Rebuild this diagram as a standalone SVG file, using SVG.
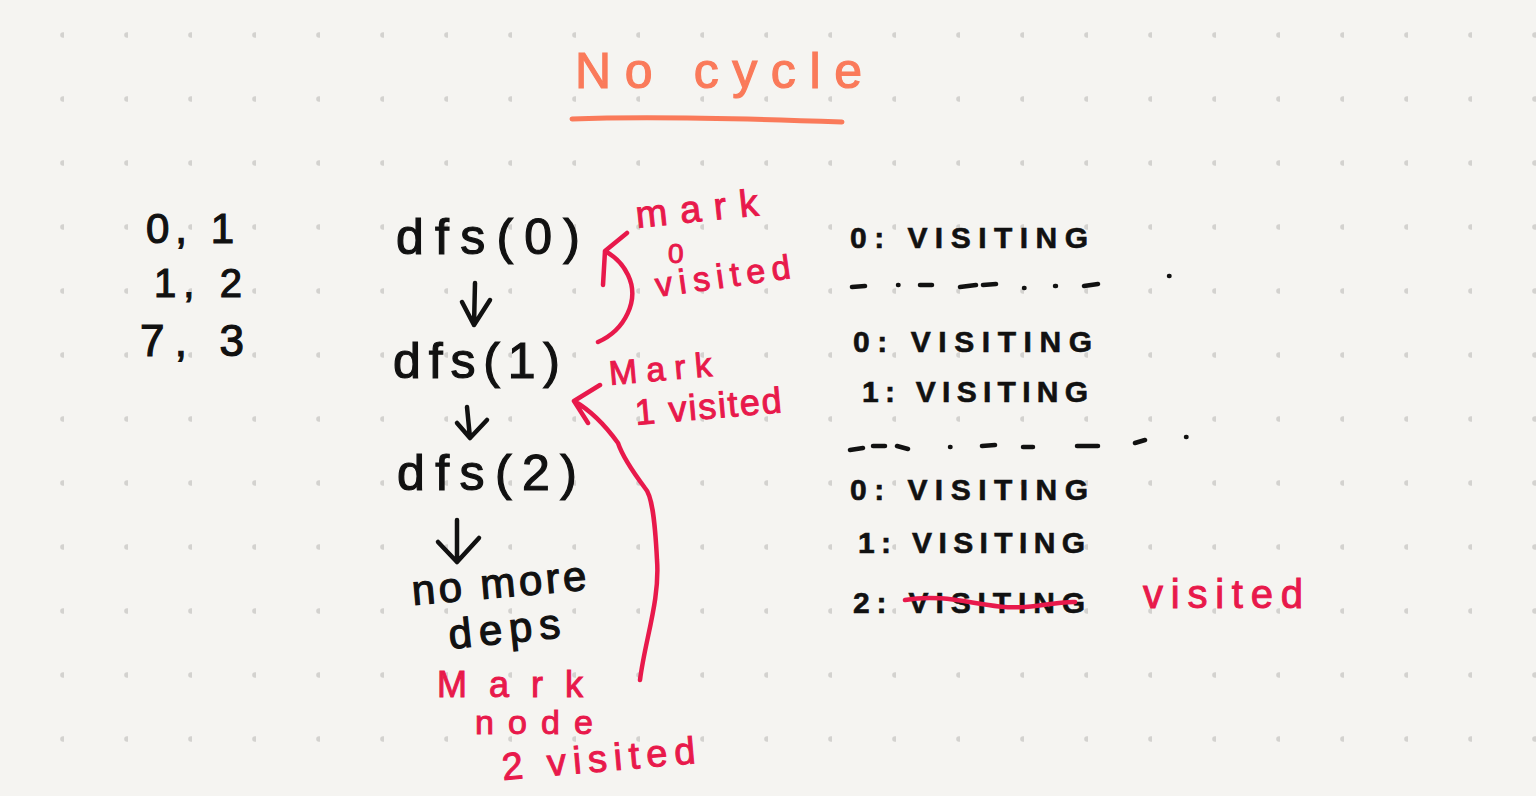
<svg xmlns="http://www.w3.org/2000/svg" width="1536" height="796" viewBox="0 0 1536 796">
<defs>
<pattern id="dots" x="0" y="0" width="64" height="64" patternUnits="userSpaceOnUse">
<circle cx="63" cy="35" r="2.8" fill="#d3d2cf"/>
</pattern>
<style>
.ink{font-family:"Liberation Sans","DejaVu Sans",sans-serif;fill:#111;stroke:#111;stroke-width:1.2;}
.red{font-family:"Liberation Sans","DejaVu Sans",sans-serif;fill:#e8194b;stroke:#e8194b;stroke-width:1;}
.title{font-family:"Liberation Sans","DejaVu Sans",sans-serif;fill:#fa7a5a;stroke:#fa7a5a;stroke-width:1.2;}
.caps{font-weight:bold;stroke-width:0.6;}
.pen{fill:none;stroke:#111;stroke-width:4.5;stroke-linecap:round;stroke-linejoin:round;}
.rpen{fill:none;stroke:#e8194b;stroke-width:4.5;stroke-linecap:round;stroke-linejoin:round;}
.opan{fill:none;stroke:#fa7a5a;stroke-width:5;stroke-linecap:round;}
</style>
</defs>
<rect width="1536" height="796" fill="#f5f4f1"/>
<rect width="1536" height="796" fill="url(#dots)"/>

<g id="title">
<text class="title" x="575" y="88" font-size="50" textLength="287" lengthAdjust="spacing">No cycle</text>
<path class="opan" d="M572,119 C650,116 760,119 842,122"/>
</g>

<g id="edges-list">
<text class="ink" x="146" y="243" font-size="42" textLength="88" lengthAdjust="spacing">0, 1</text>
<text class="ink" x="154" y="297" font-size="40" textLength="88" lengthAdjust="spacing">1, 2</text>
<text class="ink" x="140" y="356" font-size="44" textLength="104" lengthAdjust="spacing">7, 3</text>
</g>

<g id="dfs0"><text class="ink" x="396" y="254" font-size="50" textLength="184" lengthAdjust="spacing">dfs(0)</text></g>
<g id="dfs1"><text class="ink" x="393" y="378" font-size="50" textLength="167" lengthAdjust="spacing">dfs(1)</text></g>
<g id="dfs2"><text class="ink" x="397" y="490" font-size="50" textLength="180" lengthAdjust="spacing">dfs(2)</text></g>
<g id="no-more-deps">
<text class="ink" x="413" y="605" font-size="42" textLength="175" lengthAdjust="spacing" transform="rotate(-5 413 605)">no more</text>
<text class="ink" x="450" y="649" font-size="42" textLength="112" lengthAdjust="spacing" transform="rotate(-6 450 649)">deps</text>
</g>

<g id="note-mark0">
<text class="red" x="637" y="228" font-size="38" textLength="123" lengthAdjust="spacing" transform="rotate(-6 637 228)">mark</text>
<text class="red" x="668" y="263" font-size="28">0</text>
<text class="red" x="657" y="297" font-size="34" textLength="136" lengthAdjust="spacing" transform="rotate(-8 657 297)">visited</text>
</g>
<g id="note-mark1">
<text class="red" x="610" y="385" font-size="34" textLength="103" lengthAdjust="spacing" transform="rotate(-5 610 385)">Mark</text>
<text class="red" x="636" y="425" font-size="36" textLength="147" lengthAdjust="spacing" transform="rotate(-5 636 425)">1 visited</text>
</g>
<g id="note-mark2">
<text class="red" x="437" y="697" font-size="36" textLength="146" lengthAdjust="spacing">Mark</text>
<text class="red" x="475" y="734" font-size="34" textLength="118" lengthAdjust="spacing">node</text>
<text class="red" x="503" y="780" font-size="38" textLength="194" lengthAdjust="spacing" transform="rotate(-5 503 780)">2 visited</text>
</g>

<g id="state">
<text class="ink caps" x="850" y="248" font-size="30" textLength="238" lengthAdjust="spacing">0: VISITING</text>
<path class="pen" d="M852,287 L865,286 M898,285 L898.5,285 M920,285 L932,285 M960,287 L976,285 M983,285 L996,284 M1024,288 L1024.5,288 M1055,286 L1056,286 M1084,286 L1098,284 M1169,276 L1169.5,276"/>
<text class="ink caps" x="853" y="352" font-size="30" textLength="239" lengthAdjust="spacing">0: VISITING</text>
<text class="ink caps" x="862" y="402" font-size="30" textLength="226" lengthAdjust="spacing">1: VISITING</text>
<path class="pen" d="M850,450 L863,448 M873,446 L885,446 M897,446 L908,449 M950,447 L950.5,447 M982,446 L995,445 M1023,447 L1033,447 M1077,446 L1098,446 M1135,443 L1145,440 M1186,437 L1186.5,437"/>
<text class="ink caps" x="850" y="500" font-size="30" textLength="238" lengthAdjust="spacing">0: VISITING</text>
<text class="ink caps" x="858" y="553" font-size="30" textLength="227" lengthAdjust="spacing">1: VISITING</text>
<text class="ink caps" x="853" y="613" font-size="30" textLength="232" lengthAdjust="spacing">2: VISITING</text>
<path class="rpen" d="M905,600 C950,592 985,610 1025,607 C1050,605 1065,601 1075,602"/>
<text class="red" x="1143" y="608" font-size="40" textLength="160" lengthAdjust="spacing">visited</text>
</g>

<g id="connectors">
<path class="pen" d="M475,283 L474,325 M462,302 L474,325 L490,300"/>
<path class="pen" d="M467,407 L470,438 M457,423 L470,438 L487,420"/>
<path class="pen" d="M457,520 L457,562 M438,542 L457,562 L479,538"/>
<path class="rpen" d="M598,342 C625,330 640,300 628,275 C622,262 614,256 605,251 M627,233 L605,251 L603,285"/>
<path class="rpen" d="M640,680 C645,640 660,600 657,560 C655,520 652,495 645,488 C630,468 622,455 618,443 C605,425 590,410 574,401 M600,385 L574,401 L588,423"/>
</g>
</svg>
